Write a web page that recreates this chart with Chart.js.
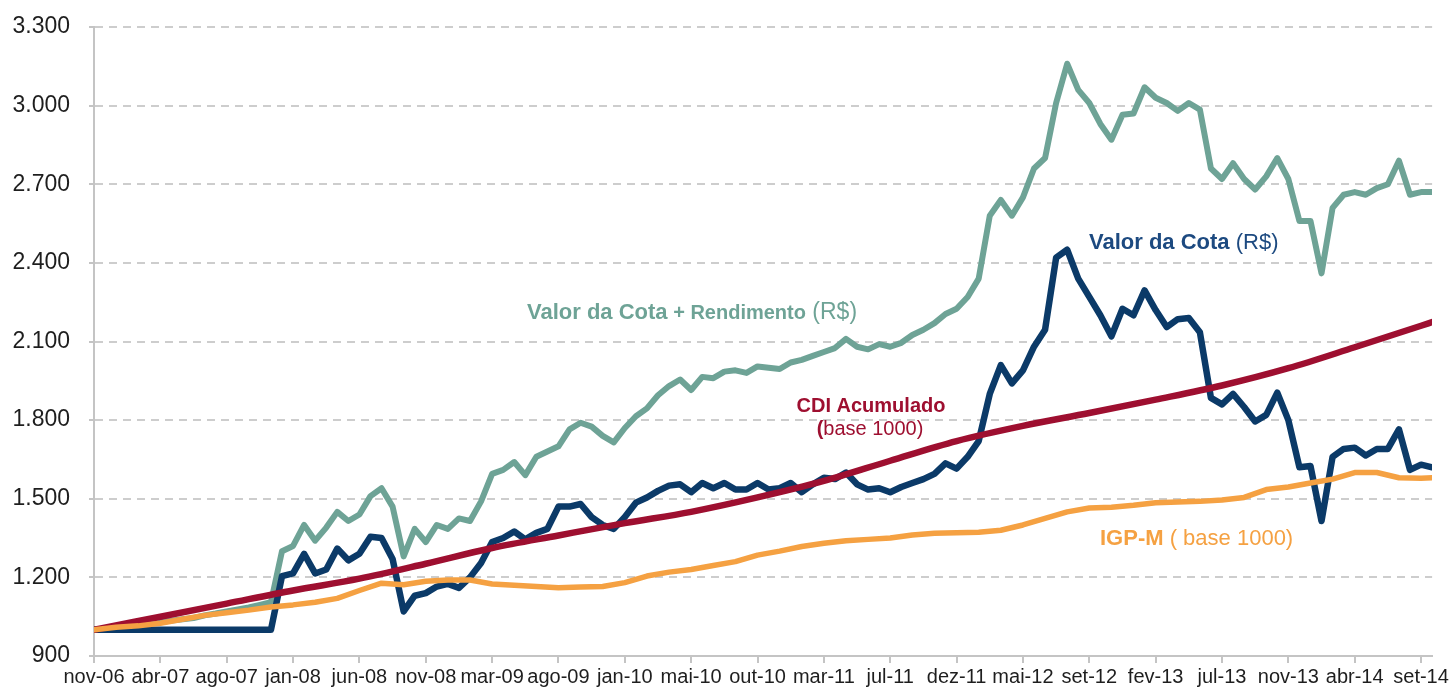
<!DOCTYPE html>
<html>
<head>
<meta charset="utf-8">
<script src="https://cdn.jsdelivr.net/npm/chart.js@4.4.1/dist/chart.umd.min.js"></script>
<style>
  html, body { margin: 0; padding: 0; background: #fff; }
  #wrap { width: 1451px; height: 688px; position: relative; }
</style>
</head>
<body>
<div id="wrap"><canvas id="chart"></canvas></div>
<script>
// ── data ──
const TICK_LABELS = ['nov-06', 'abr-07', 'ago-07', 'jan-08', 'jun-08', 'nov-08', 'mar-09', 'ago-09', 'jan-10', 'mai-10',
    'out-10', 'mar-11', 'jul-11', 'dez-11', 'mai-12', 'set-12', 'fev-13', 'jul-13', 'nov-13', 'abr-14', 'set-14'];
const X_MAX = 121 / 6; // data runs a little past the last label

// 6 readings per label interval
const COTA_REND = [
    1000, 1005, 1010, 1015, 1020, 1025, 1030, 1035, 1040, 1045, 1055, 1062, 1070, 1078, 1085, 1095, 1105, 1300, 1320, 1400, 1340, 1390,
    1450, 1415, 1440, 1510, 1540, 1470, 1280, 1385, 1335, 1400, 1385, 1425, 1415, 1490, 1595, 1610, 1640, 1590, 1660, 1680, 1700, 1765,
    1790, 1775, 1740, 1715, 1770, 1815, 1845, 1895, 1930, 1955, 1915, 1965, 1960, 1985, 1990, 1980, 2005, 2000, 1995, 2020, 2030, 2045,
    2060, 2075, 2110, 2080, 2070, 2090, 2080, 2095, 2125, 2145, 2170, 2205, 2225, 2270, 2340, 2580, 2640, 2580, 2650, 2760, 2800, 3010,
    3160, 3060, 3010, 2930, 2870, 2965, 2970, 3070, 3030, 3010, 2980, 3010, 2985, 2760, 2720, 2780, 2720, 2680, 2730, 2800, 2720, 2560,
    2560, 2360, 2610, 2660, 2670, 2660, 2685, 2700, 2790, 2660, 2670, 2670
];
const COTA = [
    1000, 1000, 1000, 1000, 1000, 1000, 1000, 1000, 1000, 1000, 1000, 1000, 1000, 1000, 1000, 1000, 1000, 1205, 1215, 1290, 1215, 1230,
    1310, 1265, 1290, 1355, 1350, 1270, 1070, 1130, 1140, 1165, 1175, 1160, 1200, 1255, 1335, 1350, 1375, 1345, 1370, 1385, 1470, 1470,
    1480, 1430, 1400, 1385, 1430, 1485, 1505, 1530, 1550, 1555, 1525, 1560, 1540, 1560, 1535, 1535, 1560, 1535, 1540, 1560, 1525, 1555,
    1580, 1575, 1600, 1555, 1535, 1540, 1525, 1545, 1560, 1575, 1595, 1635, 1615, 1660, 1720, 1900, 2010, 1940, 1990, 2080, 2145, 2420,
    2450, 2340, 2270, 2200, 2120, 2225, 2200, 2295, 2220, 2155, 2185, 2190, 2135, 1885, 1860, 1900, 1850, 1795, 1820, 1905, 1800, 1620,
    1625, 1415, 1660, 1690, 1695, 1665, 1690, 1690, 1765, 1610, 1630, 1620
];
// 3 readings per label interval
const IGPM = [
    1000, 1010, 1015, 1025, 1040, 1055, 1065, 1075, 1087, 1095, 1105, 1120, 1150, 1178, 1172, 1185, 1190, 1190, 1175, 1170,
    1165, 1160, 1163, 1165, 1180, 1205, 1220, 1230, 1245, 1260, 1285, 1300, 1318, 1330, 1340, 1345, 1350, 1362, 1368, 1370,
    1372, 1380, 1400, 1425, 1450, 1465, 1468, 1475, 1485, 1488, 1490, 1495, 1505, 1535, 1545, 1560, 1575, 1600, 1600, 1580,
    1578, 1580
];
// one reading per label, last one at the end of the data
const CDI = [1000, 1050, 1100, 1150, 1195, 1252, 1312, 1360, 1407, 1450, 1505, 1568, 1645, 1720, 1778, 1827, 1878, 1932, 1998, 2078, 2160, 2174];

const Y_MIN = 900, Y_MAX = 3300, Y_STEP = 300;

// ── look ──
const FONT = '"Liberation Sans", Arial, Helvetica, sans-serif';
const TEAL = '#6ea396';
const NAVY = '#0b3a68';
const CRIMSON = '#9e0f30';
const ORANGE = '#f5a142';
const GRID = '#cdcdcd';
const AXIS = '#c4c4c4';
const INK = '#1e1e1e';

const ANNOTATIONS = [
    { x: 527, y: 313, align: 'left', color: TEAL, parts: [
        { text: 'Valor da Cota', font: 'bold 22px ' + FONT },
        { text: ' + Rendimento', font: 'bold 20px ' + FONT },
        { text: ' (R$)', font: '23px ' + FONT } ] },
    { x: 1089, y: 243, align: 'left', color: '#1d4a80', parts: [
        { text: 'Valor da Cota', font: 'bold 22px ' + FONT },
        { text: ' (R$)', font: '22px ' + FONT } ] },
    { x: 871, y: 406, align: 'center', color: CRIMSON, parts: [
        { text: 'CDI Acumulado', font: 'bold 20px ' + FONT } ] },
    { x: 870, y: 429, align: 'center', color: CRIMSON, parts: [
        { text: '(', font: 'bold 20px ' + FONT },
        { text: 'base 1000)', font: '20px ' + FONT } ] },
    { x: 1100, y: 539, align: 'left', color: ORANGE, parts: [
        { text: 'IGP-M', font: 'bold 22px ' + FONT },
        { text: ' ( base 1000)', font: '22px ' + FONT } ] },
];

function toPoints(values, perInterval) {
    return values.map((v, i) => ({ x: Math.min(i / perInterval, X_MAX), y: v }));
}

function fmtThousands(v) {
    return String(v).replace(/\B(?=(\d{3})+(?!\d))/g, '.');
}

// short solid tick marks left of the y axis, series labels on top
const decorPlugin = {
    id: 'decor',
    beforeDatasetsDraw(chart) {
        const ctx = chart.ctx, y = chart.scales.y;
        ctx.save();
        ctx.strokeStyle = AXIS;
        ctx.lineWidth = 2;
        y.ticks.forEach(t => {
            const py = Math.round(y.getPixelForValue(t.value));
            ctx.beginPath();
            ctx.moveTo(y.right - 5, py);
            ctx.lineTo(y.right, py);
            ctx.stroke();
        });
        ctx.restore();
    },
    afterDatasetsDraw(chart) {
        const ctx = chart.ctx;
        ANNOTATIONS.forEach(a => {
            ctx.save();
            ctx.fillStyle = a.color;
            ctx.textBaseline = 'middle';
            let total = 0;
            a.parts.forEach(p => { ctx.font = p.font; total += ctx.measureText(p.text).width; });
            let x = a.align === 'center' ? a.x - total / 2 : a.x;
            a.parts.forEach(p => {
                ctx.font = p.font;
                ctx.fillText(p.text, x, a.y);
                x += ctx.measureText(p.text).width;
            });
            ctx.restore();
        });
    }
};

function line(label, data, color, width, order, extra = {}) {
    return {
        label, data, order,
        borderColor: color,
        backgroundColor: color,
        borderWidth: width,
        pointRadius: 0,
        tension: 0,
        borderJoinStyle: 'round',
        borderCapStyle: 'round',
        ...extra,
    };
}

new Chart(document.getElementById('chart'), {
    type: 'line',
    data: {
        datasets: [
            line('IGP-M', toPoints(IGPM, 3), ORANGE, 5.5, 1),
            line('CDI Acumulado', toPoints(CDI, 1), CRIMSON, 6.5, 2, { cubicInterpolationMode: 'monotone' }),
            line('Valor da Cota', toPoints(COTA, 6), NAVY, 6.5, 3),
            line('Valor da Cota + Rendimento', toPoints(COTA_REND, 6), TEAL, 6, 4),
        ]
    },
    options: {
        responsive: true,
        maintainAspectRatio: false,
        animation: false,
        events: [],
        layout: { padding: { top: 27, right: 18, left: 0, bottom: 0 } },
        plugins: {
            legend: { display: false },
            tooltip: { enabled: false }
        },
        scales: {
            x: {
                type: 'linear',
                min: 0,
                max: X_MAX,
                afterBuildTicks: s => { s.ticks = TICK_LABELS.map((_, i) => ({ value: i })); },
                afterFit: s => { s.height = 32; },
                border: { display: true, color: AXIS, width: 2 },
                grid: { display: true, drawOnChartArea: false, drawTicks: true, tickLength: 7, color: AXIS, lineWidth: 2 },
                ticks: {
                    autoSkip: false,
                    maxRotation: 0,
                    padding: 2,
                    color: INK,
                    font: { family: FONT, size: 20 },
                    callback: v => TICK_LABELS[v] ?? ''
                }
            },
            y: {
                min: Y_MIN,
                max: Y_MAX,
                afterFit: s => { s.width = 94; },
                border: { display: true, color: AXIS, width: 2, dash: [8, 6] },
                grid: { color: GRID, lineWidth: 2, tickLength: 24, tickColor: 'rgba(0,0,0,0)', tickBorderDash: [] },
                ticks: {
                    stepSize: Y_STEP,
                    padding: 0,
                    color: INK,
                    font: { family: FONT, size: 23 },
                    callback: v => fmtThousands(v)
                }
            }
        }
    },
    plugins: [decorPlugin]
});
</script>
</body>
</html>
